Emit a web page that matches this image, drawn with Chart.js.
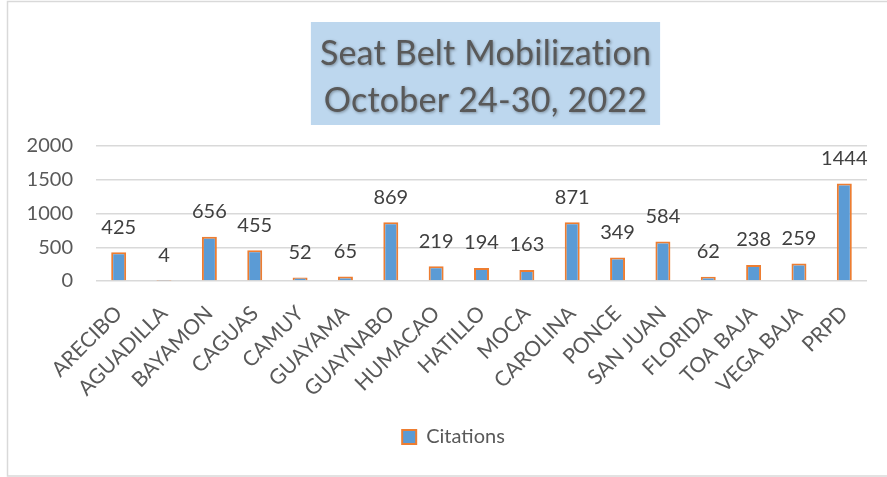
<!DOCTYPE html>
<html>
<head>
<meta charset="utf-8">
<script src="https://cdn.jsdelivr.net/npm/chart.js@4.4.1/dist/chart.umd.min.js"></script>
<style>
  html, body { margin: 0; padding: 0; background: #fff; }
  #wrap { width: 887px; height: 477px; }
</style>
</head>
<body>
<div id="wrap"><canvas id="myChart" width="887" height="477"></canvas></div>
<script>
const categories = ['ARECIBO', 'AGUADILLA', 'BAYAMON', 'CAGUAS', 'CAMUY', 'GUAYAMA', 'GUAYNABO', 'HUMACAO',
    'HATILLO', 'MOCA', 'CAROLINA', 'PONCE', 'SAN JUAN', 'FLORIDA', 'TOA BAJA', 'VEGA BAJA', 'PRPD'];
const citations = [425, 4, 656, 455, 52, 65, 869, 219, 194, 163, 871, 349, 584, 62, 238, 259, 1444];
const seriesName = 'Citations';
const titleLines = ['Seat Belt Mobilization', 'October 24-30, 2022'];
const yTicks = [0, 500, 1000, 1500, 2000];

const FONT = 'Lato';
const GRAY = '#595959';

// title in a light blue box, drawn before everything else
const titleBox = {
    id: 'titleBox',
    beforeDraw(chart) {
        const ctx = chart.ctx;
        const area = chart.chartArea;
        const cx = (area.left + area.right) / 2 + 4;
        ctx.save();
        ctx.font = '34px ' + FONT;
        if ('letterSpacing' in ctx) ctx.letterSpacing = '0.2px';
        const w = Math.max(...titleLines.map(t => ctx.measureText(t).width));
        ctx.fillStyle = '#BDD7EE';
        ctx.fillRect(cx - w / 2 - 9, 22, w + 18, 103);
        ctx.fillStyle = GRAY;
        ctx.textAlign = 'center';
        ctx.textBaseline = 'middle';
        ctx.shadowColor = 'rgba(0,0,0,0.35)';
        ctx.shadowBlur = 3;
        ctx.shadowOffsetX = 1;
        ctx.shadowOffsetY = 1.5;
        titleLines.forEach((t, i) => ctx.fillText(t, cx, 54 + i * 47));
        ctx.restore();
    },
    afterDraw(chart) {
        const ctx = chart.ctx;
        ctx.save();
        ctx.strokeStyle = '#d9d9d9';
        ctx.lineWidth = 1.5;
        ctx.strokeRect(7.5, 1.5, 900, 474.5);
        ctx.restore();
    }
};

// value labels above each bar
const barLabels = {
    id: 'barLabels',
    afterDatasetsDraw(chart) {
        const ctx = chart.ctx;
        const meta = chart.getDatasetMeta(0);
        ctx.save();
        ctx.font = '20px ' + FONT;
        ctx.fillStyle = '#404040';
        ctx.textAlign = 'center';
        ctx.textBaseline = 'middle';
        meta.data.forEach((bar, i) => {
            ctx.fillText(String(citations[i]), bar.x, bar.y - 25);
        });
        ctx.restore();
    }
};

// move the legend right a bit, as in the original
const legendShift = {
    id: 'legendShift',
    afterLayout(chart) {
        chart.legend.left += 16;
        chart.legend.right += 16;
    }
};

const ctx = document.getElementById('myChart').getContext('2d');
new Chart(ctx, {
    type: 'bar',
    data: {
        labels: categories,
        datasets: [{
            label: seriesName,
            data: citations,
            backgroundColor: '#5B9BD5',
            borderColor: '#ED7D31',
            borderWidth: 2,
            categoryPercentage: 1,
            barPercentage: 0.33,
        }],
    },
    options: {
        responsive: false,
        animation: false,
        layout: { padding: { top: 146, left: 8, right: 20, bottom: 20 } },
        scales: {
            x: {
                grid: { display: false },
                border: { display: false },
                ticks: {
                    autoSkip: false,
                    minRotation: 45,
                    maxRotation: 45,
                    padding: 12,
                    color: GRAY,
                    font: { family: FONT, size: 21 },
                },
                afterFit(scale) { scale.height = 136; },
            },
            y: {
                min: 0,
                max: 2000,
                afterBuildTicks(scale) { scale.ticks = yTicks.map(v => ({ value: v })); },
                grid: { color: '#d9d9d9', lineWidth: 1.5, drawTicks: false },
                border: { display: false },
                ticks: {
                    padding: 23,
                    color: GRAY,
                    font: { family: FONT, size: 20 },
                    callback: v => String(v),
                },
                afterFit(scale) { scale.width = 88; },
            },
        },
        plugins: {
            title: { display: false },
            tooltip: { enabled: false },
            legend: {
                position: 'bottom',
                labels: {
                    boxWidth: 14,
                    boxHeight: 14,
                    color: GRAY,
                    font: { family: FONT, size: 20 },
                },
            },
        },
    },
    plugins: [titleBox, barLabels, legendShift],
});
</script>
</body>
</html>
